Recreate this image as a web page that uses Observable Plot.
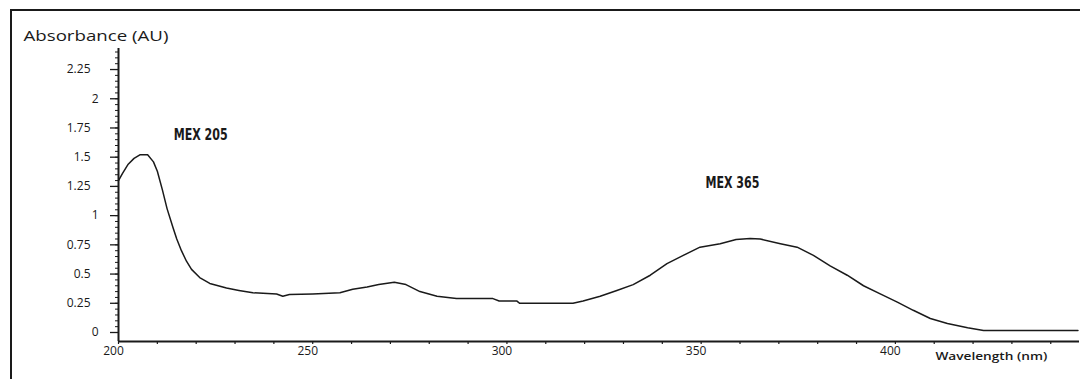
<!DOCTYPE html>
<html><head><meta charset="utf-8">
<script src="https://cdn.jsdelivr.net/npm/d3@7"></script>
<script src="https://cdn.jsdelivr.net/npm/@observablehq/plot@0.6"></script>
<style>
body{margin:0;background:#fff;}
#wrap{position:relative;width:1080px;height:379px;overflow:hidden;}
#border{position:absolute;left:10px;top:9px;right:-5px;bottom:-5px;border-top:2px solid #1a1a1a;border-left:2px solid #1a1a1a;pointer-events:none;}
svg{display:block;}
</style></head><body><div id="wrap"><div id="border"></div></div>
<script>
const wavelength = [200, 201, 202.5, 204, 205.5, 207.5, 209, 210, 211.3, 212.5, 214, 215, 216.2, 217.5, 218.8, 220.9, 223.5, 227.8, 231, 234.6, 240.7, 242.3, 244, 250, 257, 260.3, 264, 267, 271, 274, 277.6, 282, 287, 296.4, 298, 302.5, 303.3, 317, 319.6, 324, 328.3, 332.5, 336.9, 341.2, 345.4, 349.7, 354.9, 359, 362.6, 365.2, 370.4, 374.7, 378.9, 383.2, 387.6, 391.8, 396.1, 400.5, 404.6, 409, 413.4, 418.6, 422.7, 447];
const absorbance = [1.30, 1.36, 1.44, 1.49, 1.52, 1.52, 1.46, 1.38, 1.22, 1.06, 0.90, 0.80, 0.70, 0.61, 0.54, 0.47, 0.42, 0.38, 0.36, 0.34, 0.33, 0.31, 0.325, 0.33, 0.34, 0.37, 0.39, 0.41, 0.43, 0.41, 0.35, 0.31, 0.29, 0.29, 0.27, 0.27, 0.25, 0.25, 0.27, 0.31, 0.36, 0.41, 0.49, 0.59, 0.66, 0.73, 0.76, 0.795, 0.805, 0.80, 0.76, 0.73, 0.66, 0.57, 0.49, 0.40, 0.33, 0.26, 0.19, 0.12, 0.077, 0.04, 0.017, 0.017];

const peakLabels = ["MEX 205", "MEX 365"];
const peakLabelX = [214.2, 351.1];
const peakLabelY = [1.685, 1.275];

const yMajorTicks = [0, 0.25, 0.5, 0.75, 1, 1.25, 1.5, 1.75, 2, 2.25];
const yMinorTicks = d3.range(0, 2.42, 0.05);
const xMajorTicks = [200, 250, 300, 350, 400];
const xMinorTicks = d3.range(200, 447, 10);
const yTitle = "Absorbance (AU)";
const xTitle = "Wavelength (nm)";
const xTitleAt = 410.3;
const xDomain = [200, 447.4];
const yDomain = [-0.077, 2.43];

const spectrum = wavelength.map((w, i) => ({w, a: absorbance[i]}));
const peaks = peakLabels.map((t, i) => ({t, x: peakLabelX[i], y: peakLabelY[i]}));

const ink = "#1a1a1a";
const tickFont = "'Open Sans', 'DejaVu Sans', sans-serif";

const chart = Plot.plot({
  width: 1080,
  height: 379,
  marginLeft: 118,
  marginRight: 1,
  marginTop: 48,
  marginBottom: 38,
  x: {domain: xDomain},
  y: {domain: yDomain},
  style: {fontFamily: tickFont, fontSize: "12px", color: ink, background: "transparent"},
  marks: [
    Plot.ruleX([xDomain[0]], {stroke: ink, strokeWidth: 2}),
    Plot.ruleY([yDomain[0]], {stroke: ink, strokeWidth: 2}),
    Plot.axisY(yMinorTicks, {tickSize: 3, tickFormat: () => "", stroke: ink, strokeWidth: 1, label: null}),
    Plot.axisY(yMajorTicks.filter(d => !Number.isInteger(d)), {tickSize: 8, tickPadding: 20, tickFormat: d => String(d), stroke: ink, fill: ink, strokeWidth: 1.3, label: null, letterSpacing: -0.4}),
    Plot.axisY(yMajorTicks.filter(d => Number.isInteger(d)), {tickSize: 8, tickPadding: 12, tickFormat: d => String(d), stroke: ink, fill: ink, strokeWidth: 1.3, label: null}),
    Plot.axisX(xMinorTicks, {tickSize: 3, tickFormat: () => "", stroke: ink, strokeWidth: 1.2, label: null}),
    Plot.axisX(xMajorTicks, {tickSize: 0, tickPadding: 5, dx: -5, tickFormat: d => String(d), fill: ink, label: null, letterSpacing: -0.6}),
    Plot.line(spectrum, {x: "w", y: "a", stroke: ink, strokeWidth: 1.5}),
    Plot.text(peaks, {x: "x", y: "y", text: "t", textAnchor: "start", fill: ink, fontSize: 15, fontWeight: "bold", fontFamily: "'DejaVu Sans Condensed', 'Liberation Sans Narrow', 'DejaVu Sans', sans-serif", className: "peak-label"}),
    Plot.text([yTitle], {frameAnchor: "top-left", dx: -95, dy: -18, textAnchor: "start", fill: ink, fontSize: 15, fontFamily: "'Open Sans', sans-serif", className: "y-title"}),
    Plot.text([xTitle], {x: () => xTitleAt, frameAnchor: "bottom", dy: 18, textAnchor: "start", fill: ink, fontSize: 10, fontWeight: 600, fontFamily: "'Open Sans', sans-serif", className: "x-title"})
  ]
});
document.getElementById("wrap").prepend(chart);

// fit text widths to the reference
d3.select(chart).selectAll(".peak-label text").attr("textLength", 54).attr("lengthAdjust", "spacingAndGlyphs");
d3.select(chart).selectAll(".y-title text").attr("textLength", 145).attr("lengthAdjust", "spacingAndGlyphs");
d3.select(chart).selectAll(".x-title text").attr("textLength", 112).attr("lengthAdjust", "spacingAndGlyphs");
</script>
</body></html>
